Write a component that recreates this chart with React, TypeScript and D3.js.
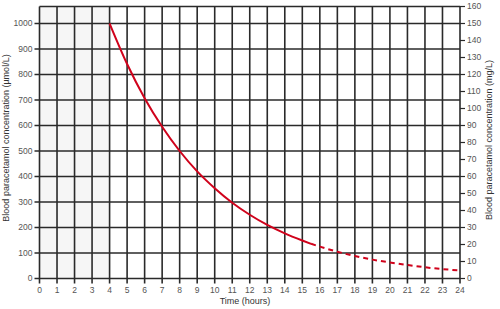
import React from "react";
import * as d3 from "d3";

const hours = d3.range(0, 25);
const umolTicks = [0, 100, 200, 300, 400, 500, 600, 700, 800, 900, 1000];
const mgTicks = [0, 10, 20, 30, 40, 50, 60, 70, 80, 90, 100, 110, 120, 130, 140, 150, 160];
const solidTime = [4, 5, 6, 7, 8, 9, 10, 11, 12, 13, 14, 15, 15.5];
const solidValue = [1000, 841, 707, 595, 500, 420, 354, 297, 250, 210, 177, 149, 136];
const dashTime = [15.5, 16, 17, 18, 19, 20, 21, 22, 23, 24];
const dashValue = [136, 125, 105, 88, 74, 63, 53, 44, 37, 31];

const W = 500, H = 309;
const left = 39.5, right = 460, top = 6.5, bottom = 278.5;

export default function App() {
  const x = d3.scaleLinear().domain([0, 24]).range([left, right]);
  const yMg = d3.scaleLinear().domain([0, 160]).range([bottom, top]);
  const yUm = d3.scaleLinear().domain([0, 160 * 1000 / 150]).range([bottom, top]);
  const line = d3.line<[number, number]>().x(d => x(d[0])).y(d => yUm(d[1])).curve(d3.curveMonotoneX);
  const solid = line(solidTime.map((t, i) => [t, solidValue[i]]));
  const dashed = line(dashTime.map((t, i) => [t, dashValue[i]]));
  const font = "Arial, 'Liberation Sans', sans-serif";
  const grid = "#2a2a2a";
  const txt = "#555";
  return (
    <svg width={W} height={H} style={{ position: "absolute", left: 0, top: 0, background: "#fff" }} fontFamily={font}>
      <rect x={x(0)} y={top} width={x(4) - x(0)} height={bottom - top} fill="#f6f6f6" />
      {hours.map(h => (
        <line key={"v" + h} x1={x(h)} x2={x(h)} y1={top} y2={bottom + 5} stroke={grid} strokeWidth={1.6} />
      ))}
      {umolTicks.map(v => (
        <line key={"h" + v} x1={left - 5} x2={right} y1={yUm(v)} y2={yUm(v)} stroke={grid} strokeWidth={1.6} />
      ))}
      <line x1={left} x2={right} y1={top} y2={top} stroke={grid} strokeWidth={1.6} />
      {mgTicks.map(v => (
        <line key={"r" + v} x1={right} x2={right + 5} y1={yMg(v)} y2={yMg(v)} stroke={grid} strokeWidth={1.2} />
      ))}
      <path d={solid || ""} fill="none" stroke="#d0021b" strokeWidth={2} />
      <path d={dashed || ""} fill="none" stroke="#d0021b" strokeWidth={2} strokeDasharray="5,4" />
      {umolTicks.map(v => (
        <text key={"lt" + v} x={left - 7} y={yUm(v)} dy="0.35em" textAnchor="end" fontSize={8.5} fill={txt}>{v}</text>
      ))}
      {mgTicks.map(v => (
        <text key={"rt" + v} x={right + 7} y={yMg(v)} dy="0.35em" textAnchor="start" fontSize={8.5} fill={txt}>{v}</text>
      ))}
      {hours.map(h => (
        <text key={"xt" + h} x={x(h)} y={bottom + 14} textAnchor="middle" fontSize={8.5} fill={txt}>{h}</text>
      ))}
      <text x={245} y={303.5} textAnchor="middle" fontSize={9} fill="#333">Time (hours)</text>
      <text transform={`translate(9,138) rotate(-90)`} textAnchor="middle" fontSize={9} fill="#333">Blood paracetamol concentration (µmol/L)</text>
      <text transform={`translate(492,140) rotate(-90)`} textAnchor="middle" fontSize={9} fill="#333">Blood paracetamol concentration (mg/L)</text>
    </svg>
  );
}
